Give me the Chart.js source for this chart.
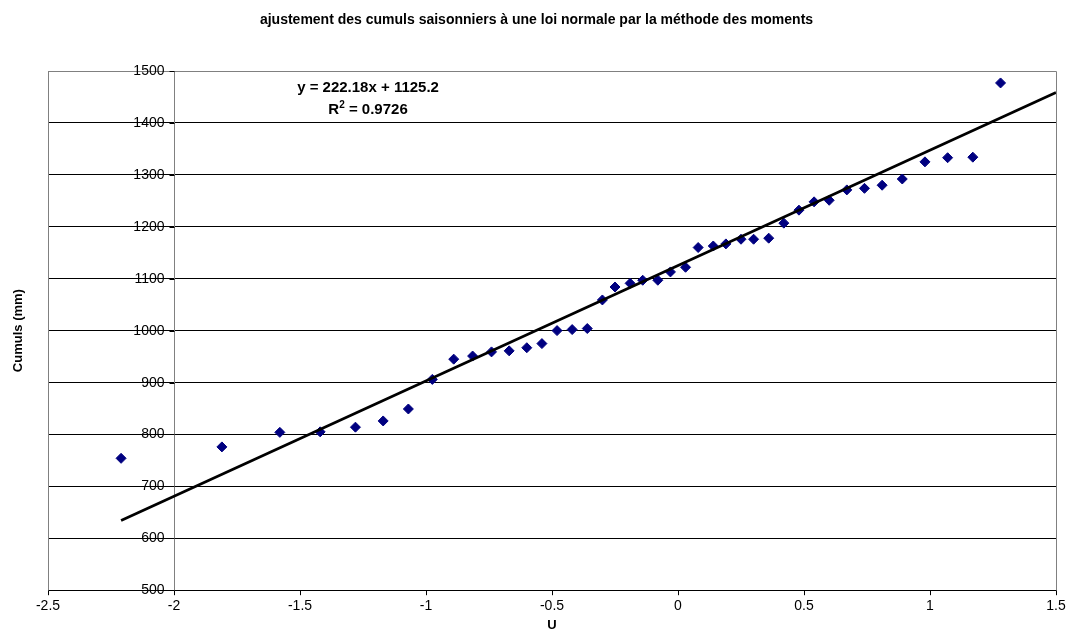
<!DOCTYPE html>
<html>
<head>
<meta charset="utf-8">
<script src="https://cdn.jsdelivr.net/npm/chart.js@4.4.1/dist/chart.umd.min.js"></script>
<style>
    html, body { margin: 0; padding: 0; background: #fff; }
</style>
</head>
<body>
<canvas id="chart" width="1073" height="642"></canvas>
<script>
// Reduced normal variable U and seasonal totals (mm)
const uValues = [-2.21, -1.81, -1.58, -1.42, -1.28, -1.17, -1.07, -0.975, -0.89, -0.815,
    -0.74, -0.67, -0.60, -0.54, -0.48, -0.42, -0.36, -0.30, -0.25, -0.19,
    -0.14, -0.08, -0.03, 0.03, 0.08, 0.14, 0.19, 0.25, 0.30, 0.36,
    0.42, 0.48, 0.54, 0.60, 0.67, 0.74, 0.81, 0.89, 0.98, 1.07,
    1.17, 1.28];
const cumuls = [754, 776, 804, 805, 814, 826, 849, 906, 945, 951,
    959, 961, 967, 975, 1000, 1002, 1004, 1059, 1084, 1091,
    1097, 1097, 1113, 1122, 1160, 1163, 1167, 1176, 1176, 1178,
    1207, 1232, 1248, 1251, 1271, 1274, 1280, 1292, 1325, 1333,
    1334, 1477];

// Linear trend line (Excel)
const trendSlope = 222.18;
const trendIntercept = 1125.2;
const trendX = [-2.21, 1.5];
const equationText = "y = 222.18x + 1125.2";
const r2Text = "0.9726";

const chartTitle = "ajustement des cumuls saisonniers à une loi normale par la méthode des moments";
const xTitle = "U";
const yTitle = "Cumuls (mm)";
const yAxisCrossing = -2;   // vertical axis crosses at U = -2

const FONT = "'Liberation Sans', Arial, sans-serif";

const scatterPoints = uValues.map((u, i) => ({ x: u, y: cumuls[i] }));
const trendPoints = trendX.map(x => ({ x: x, y: trendSlope * x + trendIntercept }));

// Extra drawing: plot border, vertical axis at U=-2, titles, equation text
const extras = {
    id: "extras",
    beforeDatasetsDraw(chart) {
        const { ctx, chartArea: a, scales } = chart;
        const L = Math.round(a.left) + 0.5, R = Math.round(a.right) + 0.5;
        const T = Math.round(a.top) + 0.5, B = Math.round(a.bottom) + 0.5;
        ctx.save();
        ctx.lineWidth = 1;
        ctx.strokeStyle = "#808080";
        ctx.beginPath();
        ctx.moveTo(L, B);
        ctx.lineTo(L, T);
        ctx.lineTo(R, T);
        ctx.lineTo(R, B);
        ctx.stroke();

        // vertical axis
        const ax = Math.round(scales.x.getPixelForValue(yAxisCrossing)) + 0.5;
        ctx.beginPath();
        ctx.moveTo(ax, T);
        ctx.lineTo(ax, B);
        ctx.stroke();
        ctx.strokeStyle = "#000";
        ctx.fillStyle = "#000";
        ctx.font = "14px " + FONT;
        ctx.textAlign = "right";
        ctx.textBaseline = "middle";
        scales.y.ticks.forEach((t, i) => {
            const py = Math.round(scales.y.getPixelForTick(i)) + 0.5;
            ctx.beginPath();
            ctx.moveTo(ax - 5, py);
            ctx.lineTo(ax, py);
            ctx.stroke();
            ctx.fillText(String(t.value), ax - 10, py);
        });
        ctx.restore();
    },
    afterDraw(chart) {
        const { ctx, chartArea: a, scales, width } = chart;
        ctx.save();
        ctx.fillStyle = "#000";
        ctx.textAlign = "center";
        ctx.textBaseline = "middle";

        ctx.font = "bold 14px " + FONT;
        ctx.fillText(chartTitle, width / 2, 20);

        ctx.font = "bold 13px " + FONT;
        ctx.fillText(xTitle, (a.left + a.right) / 2, a.bottom + 35);

        ctx.save();
        ctx.translate(18, (a.top + a.bottom) / 2);
        ctx.rotate(-Math.PI / 2);
        ctx.fillText(yTitle, 0, 0);
        ctx.restore();

        // trend equation, R² with superscript
        const ex = scales.x.getPixelForValue(-1.23);
        ctx.font = "bold 15px " + FONT;
        ctx.fillText(equationText, ex, scales.y.getPixelForValue(1467));
        const rest = " = " + r2Text;
        const wR = ctx.measureText("R").width;
        const wRest = ctx.measureText(rest).width;
        ctx.font = "bold 10px " + FONT;
        const wSup = ctx.measureText("2").width;
        const total = wR + wSup + wRest;
        const ry = scales.y.getPixelForValue(1425);
        const sx = ex - total / 2;
        ctx.textAlign = "left";
        ctx.font = "bold 15px " + FONT;
        ctx.fillText("R", sx, ry);
        ctx.font = "bold 10px " + FONT;
        ctx.fillText("2", sx + wR, ry - 5);
        ctx.font = "bold 15px " + FONT;
        ctx.fillText(rest, sx + wR + wSup, ry);
        ctx.restore();
    }
};

new Chart(document.getElementById("chart"), {
    type: "scatter",
    data: {
        datasets: [
            {
                type: "line",
                data: trendPoints,
                borderColor: "#000",
                borderWidth: 2.75,
                pointRadius: 0,
                fill: false
            },
            {
                data: scatterPoints,
                backgroundColor: "#000080",
                borderColor: "#000080",
                borderWidth: 1,
                pointStyle: "rectRot",
                pointRadius: 5
            }
        ]
    },
    options: {
        responsive: false,
        animation: false,
        layout: { padding: { left: 48, right: 17, top: 71, bottom: 24 } },
        plugins: {
            legend: { display: false },
            tooltip: { enabled: false },
            title: { display: false }
        },
        scales: {
            x: {
                type: "linear",
                min: -2.5,
                max: 1.5,
                ticks: {
                    stepSize: 0.5,
                    color: "#000",
                    padding: 3,
                    font: { family: FONT, size: 14 },
                    callback: v => String(v)
                },
                grid: { drawOnChartArea: false, tickLength: 5, color: "#000" },
                border: { color: "#000", width: 1 }
            },
            y: {
                type: "linear",
                min: 500,
                max: 1500,
                afterFit: s => { s.width = 0; },
                ticks: { stepSize: 100, display: false },
                grid: {
                    drawTicks: false,
                    color: c => (c.tick && c.tick.value === 1500) ? "#808080" : "#000"
                },
                border: { display: false }
            }
        }
    },
    plugins: [extras]
});
</script>
</body>
</html>
